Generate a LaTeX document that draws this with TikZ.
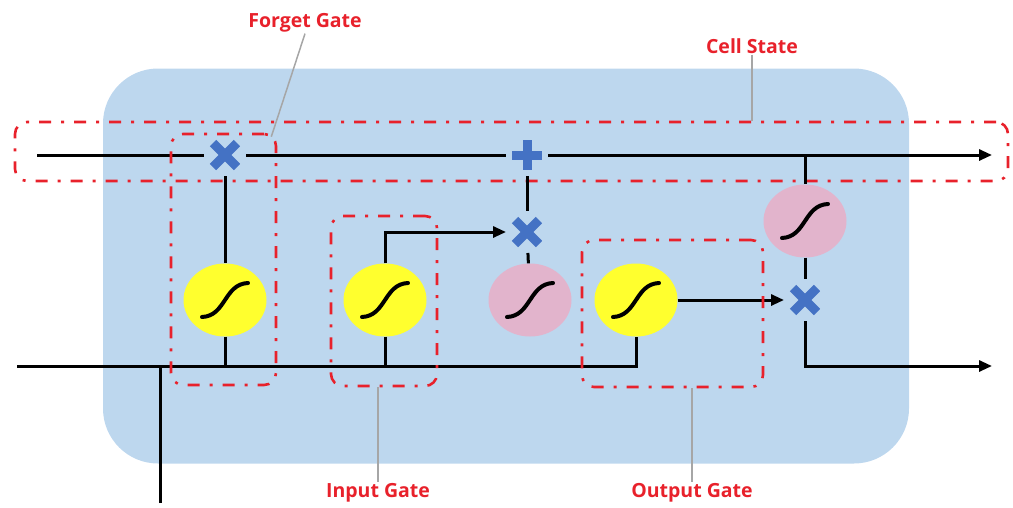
\documentclass[tikz,border=0pt]{standalone}
\usepackage{fontspec}
\setmainfont{Open Sans}
\usepackage{xcolor}
\usepackage{tikz}
\usetikzlibrary{shapes.geometric, arrows.meta, positioning, calc}
\definecolor{LS_BG}{HTML}{BDD7EE}
\definecolor{LS_RED}{HTML}{E8212B}
\definecolor{LS_OP}{HTML}{4472C4}
\definecolor{LS_YEL}{HTML}{FFFF2E}
\definecolor{LS_PINK}{HTML}{E2B4CC}
\definecolor{LS_LEAD}{HTML}{A6A6A6}
\tikzset{
  cellbg/.style={
    rectangle, rounded corners=55pt,
    fill=LS_BG, draw=none, inner sep=0pt},
  gatebox/.style={
    rectangle, rounded corners=12pt, inner sep=0pt,
    draw=LS_RED, line width=2.6pt,
    dash pattern=on 12pt off 10pt on 3pt off 10pt},
  sigm/.style={
    ellipse, minimum width=83pt, minimum height=73pt,
    inner sep=0pt, fill=LS_YEL,
    path picture={
      \draw[line width=4pt, line cap=round]
        ([shift={(-23,17)}]path picture bounding box.center)
        .. controls +(24,-1) and +(-24,1) ..
        ([shift={(23,-17)}]path picture bounding box.center);}},
  tanhn/.style={sigm, fill=LS_PINK},
  mulop/.style={
    circle, minimum size=36pt, inner sep=0pt, outer sep=3pt,
    path picture={
      \draw[LS_OP, line width=9pt]
        ([shift={(-12,-12)}]path picture bounding box.center) --
        ([shift={(12,12)}]path picture bounding box.center);
      \draw[LS_OP, line width=9pt]
        ([shift={(-12,12)}]path picture bounding box.center) --
        ([shift={(12,-12)}]path picture bounding box.center);}},
  addop/.style={
    circle, minimum size=36pt, inner sep=0pt, outer sep=3pt,
    path picture={
      \draw[LS_OP, line width=9pt]
        ([shift={(-15,0)}]path picture bounding box.center) --
        ([shift={(15,0)}]path picture bounding box.center);
      \draw[LS_OP, line width=9pt]
        ([shift={(0,-15)}]path picture bounding box.center) --
        ([shift={(0,15)}]path picture bounding box.center);}},
  wire/.style={line width=3pt, color=black},
  arr/.style={wire, -{Triangle[length=13pt,width=11pt]}},
  lead/.style={line width=1.5pt, color=LS_LEAD},
  lbl/.style={text=LS_RED, inner sep=1pt,
    font=\fontsize{19.5}{22}\selectfont\bfseries},
}
\begin{document}
\begin{tikzpicture}[x=1pt, y=-1pt]

  \useasboundingbox (0,0) rectangle (1013,507);

  \node[cellbg, minimum width=806pt, minimum height=395pt] (lstm) at (506,266) {};

  \node[gatebox, minimum width=993pt, minimum height=59pt] (cellbox) at (511.5,151.5) {};

  \node[mulop] (fmul) at (225,155) {};
  \node[addop] (add)  at (527,155) {};
  \node[mulop] (imul) at (527,232) {};

  \node[sigm]  (fsig)  at (225,300) {};
  \node[sigm]  (isig)  at (385,300) {};
  \node[tanhn] (itanh) at (530,300) {};
  \node[sigm]  (osig)  at (636,300) {};
  \node[tanhn] (otanh) at (805,221) {};
  \node[mulop] (omul)  at (805,300) {};

  \coordinate (cin)  at (37,155);
  \coordinate (cout) at (992,155);
  \coordinate (ctap) at (805,155);
  \coordinate (hin)  at (17,366);
  \coordinate (hout) at (992,366);
  \coordinate (xin)  at (160,503);

  \draw[wire] (cin)   -- (fmul);
  \draw[wire] (fmul)  -- (add);
  \draw[arr]  (add)   -- (cout);
  \draw[wire] (ctap)  -- (otanh);
  \draw[wire] (otanh) -- (omul);
  \draw[arr]  (omul)  |- (hout);
  \draw[wire] (hin)   -| (osig);
  \draw[wire] (xin)   -- (xin |- hin);
  \draw[wire] (fsig)  -- (fsig |- hin);
  \draw[wire] (isig)  -- (isig |- hin);
  \draw[wire] (fmul)  -- (fsig);
  \draw[arr]  (isig)  |- (imul);
  \draw[wire] (add)   -- (imul);
  \draw[wire] (imul)  -- (itanh);
  \draw[arr]  (osig)  -- (omul);

  \node[gatebox, minimum width=105pt, minimum height=251pt] (fgate) at (223.5,259.5) {};
  \node[gatebox, minimum width=106pt, minimum height=170pt] (igate) at (384,301) {};
  \node[gatebox, minimum width=181pt, minimum height=147pt] (ogate) at (672.5,313.5) {};

  \node[lbl] (lforget) at (305,23)  {Forget Gate};
  \node[lbl] (lcell)   at (752,46)  {Cell State};
  \node[lbl] (linput)  at (378,493) {Input Gate};
  \node[lbl] (loutput) at (692,493) {Output Gate};

  \draw[lead] (lforget.south) -- ([shift={(-6,4)}]fgate.north east);
  \draw[lead] (lcell.south)   -- (lcell.south |- cellbox.north);
  \draw[lead] (linput.north |- igate.south)  -- (linput.north);
  \draw[lead] (loutput.north |- ogate.south) -- (loutput.north);

\end{tikzpicture}
\end{document}
